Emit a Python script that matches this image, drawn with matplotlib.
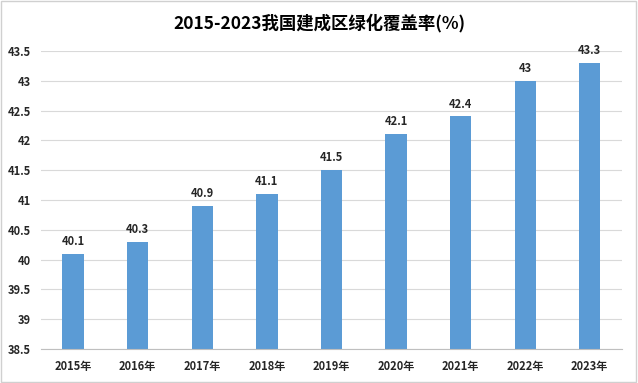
import matplotlib
matplotlib.use("Agg")
import matplotlib.pyplot as plt
from matplotlib.patches import Rectangle

plt.rcParams['font.family'] = ['Noto Sans CJK SC', 'DejaVu Sans']

# --- data ---
years = ['2015年', '2016年', '2017年', '2018年', '2019年',
         '2020年', '2021年', '2022年', '2023年']
coverage = [40.1, 40.3, 40.9, 41.1, 41.5, 42.1, 42.4, 43.0, 43.3]
value_labels = ['40.1', '40.3', '40.9', '41.1', '41.5', '42.1', '42.4', '43', '43.3']
y_ticks = [38.5, 39, 39.5, 40, 40.5, 41, 41.5, 42, 42.5, 43, 43.5]
y_tick_labels = ['38.5', '39', '39.5', '40', '40.5', '41', '41.5', '42', '42.5', '43', '43.5']

BAR_COLOR = '#5B9BD5'
TEXT_COLOR = '#262626'

fig = plt.figure(figsize=(6.38, 3.83), dpi=100)
ax = fig.add_axes([0.064, 0.089, 0.911, 0.778])

x = list(range(len(years)))
ax.bar(x, [v - 38.5 for v in coverage], bottom=38.5, width=0.33, color=BAR_COLOR, zorder=2)

for xi, v, lab in zip(x, coverage, value_labels):
    ax.text(xi, v + 0.1, lab, ha='center', va='bottom', fontsize=8,
            fontweight='bold', color=TEXT_COLOR)

ax.set_xlim(-0.5, len(years) - 0.5)
ax.set_ylim(38.5, 43.5)
ax.set_yticks(y_ticks)
ax.set_yticklabels(y_tick_labels, fontsize=8, fontweight='bold', color=TEXT_COLOR)
ax.set_xticks(x)
ax.set_xticklabels(years, fontsize=8, fontweight='bold', color=TEXT_COLOR)
ax.tick_params(axis='y', length=0, pad=7)
ax.tick_params(axis='x', length=0, pad=8)

ax.grid(axis='y', color='#D9D9D9', linewidth=0.8, zorder=0)
for s in ['top', 'right', 'left']:
    ax.spines[s].set_visible(False)
ax.spines['bottom'].set_color('#BFBFBF')

fig.text(0.5, 0.94, '2015-2023我国建成区绿化覆盖率(%)', ha='center', va='center',
         fontsize=12.5, fontweight='bold', color='black')

# outer border
fig.patches.append(Rectangle((0.002, 0.003), 0.995, 0.994, transform=fig.transFigure,
                             fill=False, edgecolor='#D0D0D0', linewidth=1))

fig.savefig('out.png', dpi=100)
